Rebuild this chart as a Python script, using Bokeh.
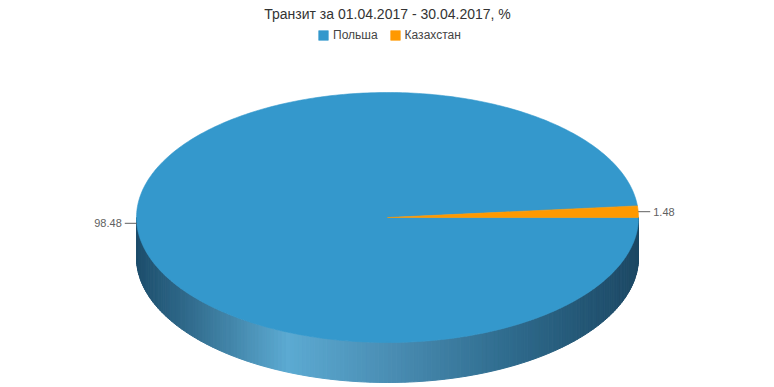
import numpy as np
from bokeh.plotting import figure
from bokeh.models import Range1d, Legend, LegendItem
from bokeh.core.properties import value
from bokeh.embed import file_html
from bokeh.resources import INLINE

# ---- data ----
chart_title = "Транзит за 01.04.2017 - 30.04.2017, %"
categories = ["Польша", "Казахстан"]
values = [98.48, 1.48]
labels = ["98.48", "1.48"]
colors = ["#3498cc", "#ff9900"]

# ---- geometry / style ----
W, H = 774, 387
cx, cy, rx, ry, depth = 387.0, 217.0, 251.0, 125.0, 40.0
FONT = "Liberation Sans"

p = figure(width=W, height=H, x_range=Range1d(0, W), y_range=Range1d(H, 0),
           output_backend="svg", toolbar_location=None, min_border=0)
p.axis.visible = False
p.grid.visible = False
p.outline_line_color = None
p.background_fill_color = "white"

total = float(sum(values))
angles = np.cumsum([0.0] + [v / total * 2 * np.pi for v in values])

def pt(a, dz=0.0):
    return cx + rx * np.cos(a), cy + ry * np.sin(a) + dz

# side gradient (front wall), shading by horizontal position
stops_f = [0.0, 0.12, 0.30, 0.50, 0.75, 1.0]
stops_c = [(29, 78, 108), (52, 112, 146), (92, 170, 210), (74, 142, 180), (46, 106, 140), (28, 72, 100)]

def side_color(x):
    f = (x - (cx - rx)) / (2 * rx)
    f = min(max(f, 0.0), 1.0)
    rgb = [int(round(np.interp(f, stops_f, [c[k] for c in stops_c]))) for k in range(3)]
    return "#%02x%02x%02x" % tuple(rgb)

sx, sy, sc = [], [], []
for i in range(len(values)):
    a0, a1 = angles[i], angles[i + 1]
    lo, hi = max(a0, 0.0), min(a1, np.pi)
    if hi <= lo:
        continue
    n = 180
    grid_a = np.linspace(lo, hi, n + 1)
    for j in range(n):
        b0, b1 = grid_a[j], grid_a[j + 1]
        x0, y0 = pt(b0)
        x1, y1 = pt(b1)
        sx.append([x0, x1, x1, x0])
        sy.append([y0, y1, y1 + depth, y0 + depth])
        sc.append(side_color((x0 + x1) / 2))
p.patches(sx, sy, fill_color=sc, line_color=sc, line_width=1)

# top faces
renderers = []
for i in range(len(values)):
    a0, a1 = angles[i], angles[i + 1]
    aa = np.linspace(a0, a1, max(8, int((a1 - a0) / (2 * np.pi) * 400)))
    xs = [cx] + [pt(a)[0] for a in aa]
    ys = [cy] + [pt(a)[1] for a in aa]
    r = p.patch(xs, ys, fill_color=colors[i], line_color=colors[i], line_width=0.6)
    renderers.append(r)

# data labels with connectors
for i in range(len(values)):
    mid = (angles[i] + angles[i + 1]) / 2
    ex, ey = pt(mid)
    side = 1 if np.cos(mid) >= 0 else -1
    lx = ex + side * 12
    p.line([ex, lx], [ey, ey], line_color="#606060", line_width=1)
    p.text([lx + side * 3], [ey], text=[labels[i]], text_font=value(FONT),
           text_font_size="11px", text_color="#606060",
           text_align="left" if side > 0 else "right", text_baseline="middle")

# title
p.text([W / 2], [13], text=[chart_title], text_font=value(FONT), text_font_size="14px",
       text_color="#333333", text_align="center", text_baseline="middle")

# legend
legend = Legend(items=[LegendItem(label=categories[i], renderers=[renderers[i]]) for i in range(len(values))],
                orientation="horizontal", location=(317, H - 42),
                glyph_width=12, glyph_height=12, label_height=12, label_standoff=4,
                spacing=11, padding=0, margin=0, border_line_color=None,
                background_fill_alpha=0, label_text_font=FONT, label_text_font_size="12px",
                label_text_color="#444444")
p.add_layout(legend, "center")

open("out.html", "w").write(file_html(p, INLINE))
